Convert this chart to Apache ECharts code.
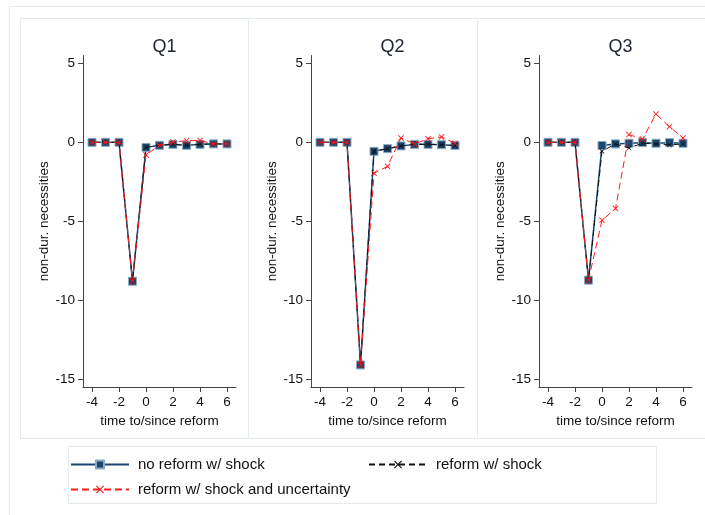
<!DOCTYPE html>
<html>
<head>
<meta charset="utf-8">
<script src="https://cdn.jsdelivr.net/npm/echarts@6/dist/echarts.min.js"></script>
<style>
  html, body { margin: 0; padding: 0; background: #fff; }
  #main { width: 705px; height: 515px; }
</style>
</head>
<body>
<div id="main"></div>
<script>
// event time, -4 .. 6
var timeVals = [-4, -3, -2, -1, 0, 1, 2, 3, 4, 5, 6];
var xTicks = [-4, -2, 0, 2, 4, 6];
var yTicks = [-15, -10, -5, 0, 5];
var panelNames = ['Q1', 'Q2', 'Q3'];
var seriesNames = ['no reform w/ shock', 'reform w/ shock', 'reform w/ shock and uncertainty'];

// Q1
var noReformQ1 = [0, 0, 0, -8.8, -0.32, -0.19, -0.13, -0.19, -0.13, -0.1, -0.1];
var reformQ1   = [0, 0, 0, -8.8, -0.32, -0.19, -0.13, -0.19, -0.13, -0.1, -0.1];
var uncertQ1   = [0, 0, 0, -8.8, -0.8, -0.19, 0.02, 0.1, 0.12, -0.1, -0.1];
// Q2
var noReformQ2 = [0, 0, 0, -14.1, -0.57, -0.4, -0.23, -0.13, -0.13, -0.15, -0.2];
var reformQ2   = [0, 0, 0, -14.1, -0.57, -0.4, -0.23, -0.13, -0.13, -0.15, -0.2];
var uncertQ2   = [0, 0, 0, -14.1, -1.96, -1.52, 0.28, -0.1, 0.23, 0.34, -0.06];
// Q3
var noReformQ3 = [0, 0, 0, -8.73, -0.2, -0.1, -0.06, -0.02, -0.06, -0.02, -0.06];
var reformQ3   = [0, 0, 0, -8.73, -0.57, -0.1, -0.36, -0.06, -0.1, -0.17, -0.1];
var uncertQ3   = [0, 0, 0, -8.73, -4.94, -4.2, 0.49, 0.21, 1.79, 0.99, 0.27];

var noReform = [noReformQ1, noReformQ2, noReformQ3];
var reform = [reformQ1, reformQ2, reformQ3];
var uncert = [uncertQ1, uncertQ2, uncertQ3];

var FONT = 'Liberation Sans, Arial, sans-serif';
var NAVY = '#1a476f';
var X_SYMBOL = 'path://M1,0 L5,4 L9,0 L10,1 L6,5 L10,9 L9,10 L5,6 L1,10 L0,9 L4,5 L0,1 Z';

function pairs(ys) {
    var out = [];
    for (var i = 0; i < timeVals.length; i++) {
        out.push([timeVals[i], ys[i]]);
    }
    return out;
}

var gridLefts = [83, 311, 539];
var grids = [], xAxes = [], yAxes = [], titles = [], series = [];

for (var p = 0; p < 3; p++) {
    grids.push({ left: gridLefts[p], top: 55.5, width: 153, height: 331.5 });
    titles.push({
        text: panelNames[p], left: gridLefts[p] + 76.5, top: 33, textAlign: 'center',
        textStyle: { fontFamily: FONT, fontSize: 18, fontWeight: 'normal', color: '#1e2430' }
    });
    xAxes.push({
        type: 'value', gridIndex: p, min: -4.667, max: 6.667,
        name: 'time to/since reform', nameLocation: 'middle', nameGap: 23,
        nameTextStyle: { fontFamily: FONT, fontSize: 13.5, color: '#111' },
        axisLine: { onZero: false, lineStyle: { color: '#444', width: 1 } },
        axisTick: { show: true, length: 5, customValues: xTicks, lineStyle: { color: '#444' } },
        axisLabel: { customValues: xTicks, margin: 8, fontFamily: FONT, fontSize: 13.5, color: '#111' },
        splitLine: { show: false }
    });
    yAxes.push({
        type: 'value', gridIndex: p, min: -15.5, max: 5.5,
        name: 'non-dur. necessities', nameLocation: 'middle', nameGap: 32,
        nameTextStyle: { fontFamily: FONT, fontSize: 13.5, color: '#111' },
        axisLine: { show: true, onZero: false, lineStyle: { color: '#444', width: 1 } },
        axisTick: { show: true, length: 5, customValues: yTicks, lineStyle: { color: '#444' } },
        axisLabel: { customValues: yTicks, margin: 8, fontFamily: FONT, fontSize: 13.5, color: '#111' },
        splitLine: { show: false }
    });

    series.push({
        name: seriesNames[0], type: 'line', xAxisIndex: p, yAxisIndex: p,
        data: pairs(noReform[p]),
        symbol: 'rect', symbolSize: 8,
        lineStyle: { color: NAVY, width: 1.5 },
        itemStyle: { color: NAVY, borderColor: '#8fa8c2', borderWidth: 1 },
        z: 2
    });
    series.push({
        name: seriesNames[1], type: 'line', xAxisIndex: p, yAxisIndex: p,
        data: pairs(reform[p]),
        symbol: X_SYMBOL, symbolSize: 5,
        lineStyle: { color: '#111', width: 1, type: [6, 4] },
        itemStyle: { color: '#111' },
        z: 3
    });
    series.push({
        name: seriesNames[2], type: 'line', xAxisIndex: p, yAxisIndex: p,
        data: pairs(uncert[p]),
        symbol: X_SYMBOL, symbolSize: 6,
        lineStyle: { color: '#ff1a1a', width: 1, type: [7, 4] },
        itemStyle: { color: '#ff1a1a' },
        z: 4
    });
}

function legendAt(name, left, top) {
    return {
        data: [name], left: left, top: top, padding: 0,
        itemWidth: 58, itemHeight: 10, selectedMode: false,
        textStyle: { fontFamily: FONT, fontSize: 15, color: '#111', padding: [0, 0, 0, 4] }
    };
}

var BORDER = '#e4ecec';
var option = {
    animation: false,
    backgroundColor: '#fff',
    title: titles,
    grid: grids,
    xAxis: xAxes,
    yAxis: yAxes,
    legend: [
        legendAt(seriesNames[0], 70, 457),
        legendAt(seriesNames[1], 368, 457),
        legendAt(seriesNames[2], 70, 482)
    ],
    graphic: [
        { type: 'rect', shape: { x: 9.5, y: 6.5, width: 720, height: 540 }, style: { fill: 'none', stroke: BORDER, lineWidth: 1 }, z: -1 },
        { type: 'rect', shape: { x: 20.5, y: 18.5, width: 228, height: 420 }, style: { fill: 'none', stroke: BORDER, lineWidth: 1 }, z: -1 },
        { type: 'rect', shape: { x: 248.5, y: 18.5, width: 229, height: 420 }, style: { fill: 'none', stroke: BORDER, lineWidth: 1 }, z: -1 },
        { type: 'rect', shape: { x: 477.5, y: 18.5, width: 240, height: 420 }, style: { fill: 'none', stroke: BORDER, lineWidth: 1 }, z: -1 },
        { type: 'rect', shape: { x: 68.5, y: 446.5, width: 588, height: 57 }, style: { fill: 'none', stroke: BORDER, lineWidth: 1 }, z: -1 }
    ],
    series: series
};

var myChart = echarts.init(document.getElementById('main'));
myChart.setOption(option);
</script>
</body>
</html>
